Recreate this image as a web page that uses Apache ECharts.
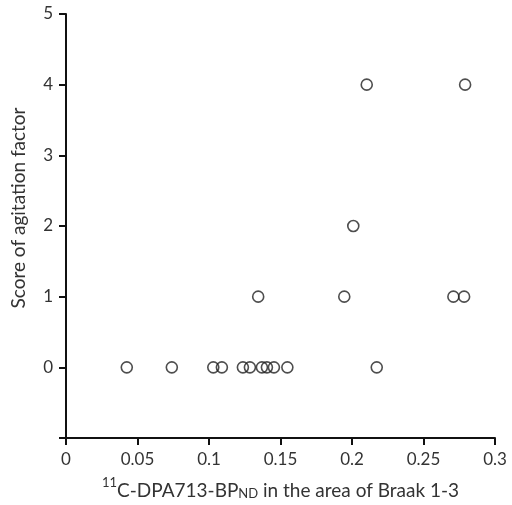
<!DOCTYPE html>
<html><head><meta charset="utf-8">
<script src="https://cdn.jsdelivr.net/npm/echarts@6/dist/echarts.min.js"></script>
<style>html,body{margin:0;padding:0;background:#fff}#c{width:512px;height:505px}</style>
</head><body><div id="c"></div>
<script>
const xValues = [0.0425, 0.074, 0.103, 0.109, 0.1237, 0.1286, 0.137, 0.1405, 0.1454, 0.1548, 0.2173,
                 0.1344, 0.1946, 0.2709, 0.2784,
                 0.2009,
                 0.2103, 0.2791];
const yValues = [0, 0, 0, 0, 0, 0, 0, 0, 0, 0, 0,
                 1, 1, 1, 1,
                 2,
                 4, 4];
const xTicks = [0, 0.05, 0.1, 0.15, 0.2, 0.25, 0.3];
const yTicks = [0, 1, 2, 3, 4, 5];

const points = xValues.map((x, i) => [x, yValues[i]]);
const font = 'Lato, "Open Sans", sans-serif';
const chart = echarts.init(document.getElementById('c'));
chart.setOption({
  animation: false,
  grid: {left: 66, right: 17, top: 14, bottom: 63, containLabel: false},
  xAxis: {
    type: 'value', min: 0, max: 0.3, interval: 0.05,
    axisLine: {onZero: false, lineStyle: {color: '#111', width: 2}},
    axisTick: {show: true, length: 7, lineStyle: {color: '#111', width: 2}},
    splitLine: {show: false},
    axisLabel: {color: '#333', fontSize: 17, fontFamily: font, margin: 13,
      formatter: v => xTicks.some(t => Math.abs(t - v) < 1e-9) ? String(+v.toFixed(2)) : ''},
    name: '{n|11}{t|C-DPA713-BP}{s|ND}{t| in the area of Braak 1-3}',
    nameLocation: 'middle', nameGap: 38,
    nameTextStyle: {
      rich: {
        t: {fontSize: 19, fontFamily: font, color: '#333', verticalAlign: 'bottom', lineHeight: 24},
        n: {fontSize: 13, fontFamily: font, color: '#333', verticalAlign: 'top', lineHeight: 24, padding: [0,0,9,0]},
        s: {fontSize: 13, fontFamily: font, color: '#333', verticalAlign: 'bottom', lineHeight: 24, padding: [7,0,0,0]}
      }
    }
  },
  yAxis: {
    type: 'value', min: -1, max: 5, interval: 1,
    axisLine: {onZero: false, lineStyle: {color: '#111', width: 2}},
    axisTick: {show: true, length: 7, lineStyle: {color: '#111', width: 2}},
    splitLine: {show: false},
    axisLabel: {color: '#333', fontSize: 17, fontFamily: font, margin: 13,
      formatter: v => yTicks.includes(v) ? String(v) : ''},
    name: 'Score of agitation factor',
    nameLocation: 'middle', nameGap: 38,
    nameTextStyle: {fontSize: 19, fontFamily: font, color: '#333', padding: [0, 0, 0, 36]}
  },
  series: [{
    type: 'scatter',
    data: points,
    symbol: 'circle',
    symbolSize: 11,
    itemStyle: {color: 'rgba(0,0,0,0)', borderColor: '#222', borderWidth: 1.6}
  }]
});
</script></body></html>
